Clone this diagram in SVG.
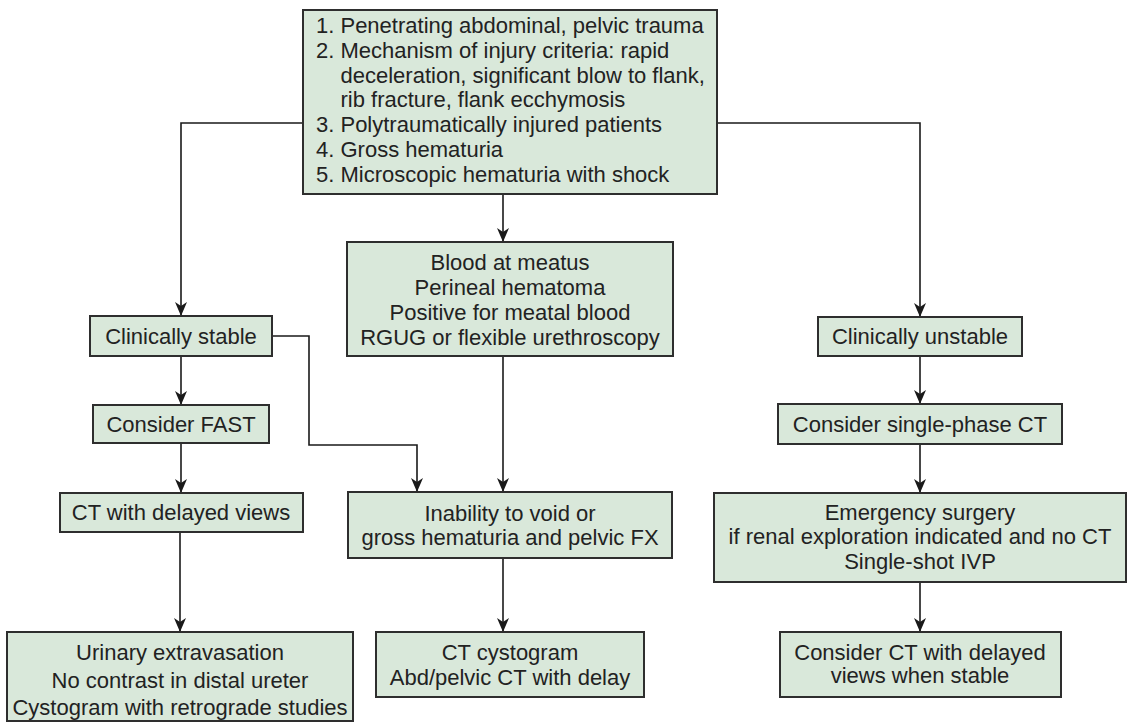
<svg xmlns="http://www.w3.org/2000/svg" width="1130" height="722" viewBox="0 0 1130 722">
<style>
.box{fill:#d9e8da;stroke:#2e2e2e;stroke-width:2}
.t{font-family:"Liberation Sans",Arial,sans-serif;font-size:22px;fill:#222}
.c{text-anchor:middle}
.ln{fill:none;stroke:#1a1a1a;stroke-width:1.6}
</style>
<defs>
<marker id="ah" markerUnits="userSpaceOnUse" markerWidth="12" markerHeight="14" viewBox="0 0 12 14" refX="6" refY="14" orient="auto-start-reverse">
<path d="M0,0 L6,14 L12,0 L6,4 z" fill="#1a1a1a" transform="rotate(0)"/>
</marker>
<marker id="a" markerUnits="userSpaceOnUse" markerWidth="14" markerHeight="12" viewBox="0 0 14 12" refX="14" refY="6" orient="auto">
<path d="M0,0 L14,6 L0,12 L4,6 z" fill="#1a1a1a"/>
</marker>
</defs>
<rect width="1130" height="722" fill="#ffffff"/>
<g id="connectors">
<polyline class="ln" points="303,123 181,123 181,316" marker-end="url(#a)"/>
<polyline class="ln" points="717,123 920,123 920,317" marker-end="url(#a)"/>
<line class="ln" x1="503" y1="194" x2="503" y2="242" marker-end="url(#a)"/>
<line class="ln" x1="503" y1="356" x2="503" y2="492" marker-end="url(#a)"/>
<line class="ln" x1="503" y1="558" x2="503" y2="632" marker-end="url(#a)"/>
<polyline class="ln" points="272,336 309,336 309,445 417,445 417,492" marker-end="url(#a)"/>
<line class="ln" x1="181" y1="356" x2="181" y2="405" marker-end="url(#a)"/>
<line class="ln" x1="181" y1="443" x2="181" y2="493" marker-end="url(#a)"/>
<line class="ln" x1="180" y1="532" x2="180" y2="632" marker-end="url(#a)"/>
<line class="ln" x1="920" y1="356" x2="920" y2="404" marker-end="url(#a)"/>
<line class="ln" x1="920" y1="444" x2="920" y2="493" marker-end="url(#a)"/>
<line class="ln" x1="920" y1="582" x2="920" y2="632" marker-end="url(#a)"/>
</g>
<g id="criteria">
<rect class="box" x="303" y="10" width="414" height="184"/>
<text class="t"><tspan x="316" y="33">1. Penetrating abdominal, pelvic trauma</tspan><tspan x="316" y="58">2. Mechanism of injury criteria: rapid</tspan><tspan x="340.5" y="83">deceleration, significant blow to flank,</tspan><tspan x="340.5" y="107">rib fracture, flank ecchymosis</tspan><tspan x="316" y="132">3. Polytraumatically injured patients</tspan><tspan x="316" y="157">4. Gross hematuria</tspan><tspan x="316" y="182">5. Microscopic hematuria with shock</tspan></text>
</g>
<g id="stable">
<rect class="box" x="90" y="316" width="182" height="40"/>
<text class="t c" x="181" y="344">Clinically stable</text>
</g>
<g id="fast">
<rect class="box" x="93" y="405" width="176" height="38"/>
<text class="t c" x="181" y="432">Consider FAST</text>
</g>
<g id="ctdelayed">
<rect class="box" x="60" y="493" width="243" height="39"/>
<text class="t c" x="181" y="520">CT with delayed views</text>
</g>
<g id="urinary">
<rect class="box" x="7" y="632" width="346" height="89"/>
<text class="t c"><tspan x="180" y="660">Urinary extravasation</tspan><tspan x="180" y="688">No contrast in distal ureter</tspan><tspan x="180" y="715">Cystogram with retrograde studies</tspan></text>
</g>
<g id="meatus">
<rect class="box" x="347" y="242" width="326" height="114"/>
<text class="t c"><tspan x="510" y="270">Blood at meatus</tspan><tspan x="510" y="295">Perineal hematoma</tspan><tspan x="510" y="320">Positive for meatal blood</tspan><tspan x="510" y="345">RGUG or flexible urethroscopy</tspan></text>
</g>
<g id="inability">
<rect class="box" x="348" y="492" width="324" height="66"/>
<text class="t c"><tspan x="510" y="521">Inability to void or</tspan><tspan x="510" y="545">gross hematuria and pelvic FX</tspan></text>
</g>
<g id="cystogram">
<rect class="box" x="376" y="632" width="268" height="65"/>
<text class="t c"><tspan x="510" y="660">CT cystogram</tspan><tspan x="510" y="685">Abd/pelvic CT with delay</tspan></text>
</g>
<g id="unstable">
<rect class="box" x="818" y="317" width="204" height="39"/>
<text class="t c" x="920" y="344">Clinically unstable</text>
</g>
<g id="singlephase">
<rect class="box" x="778" y="404" width="284" height="40"/>
<text class="t c" x="920" y="432">Consider single-phase CT</text>
</g>
<g id="emergency">
<rect class="box" x="714" y="493" width="412" height="89"/>
<text class="t c"><tspan x="920" y="520">Emergency surgery</tspan><tspan x="920" y="544">if renal exploration indicated and no CT</tspan><tspan x="920" y="569">Single-shot IVP</tspan></text>
</g>
<g id="ctstable">
<rect class="box" x="780" y="632" width="281" height="65"/>
<text class="t c"><tspan x="920" y="660">Consider CT with delayed</tspan><tspan x="920" y="683">views when stable</tspan></text>
</g>
</svg>
